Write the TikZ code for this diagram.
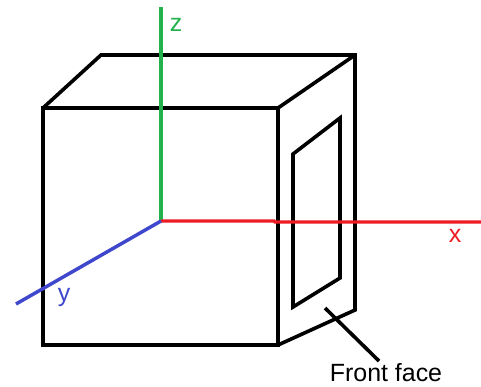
\documentclass[tikz,border=0pt]{standalone}
\usepackage{fontspec}
\setmainfont{Liberation Sans}
\usepackage{xcolor}
\definecolor{AxisGreen}{HTML}{22B14C}
\definecolor{AxisRed}{HTML}{ED1C24}
\definecolor{AxisBlue}{HTML}{3F48CC}
\begin{document}
\begin{tikzpicture}[
    x=0.75pt, y=-0.75pt,
    boxline/.style={black, line width=2.7pt, line join=miter},
    axisline/.style={line width=2.6pt},
    axislbl/.style={font=\fontsize{18.7}{20}\selectfont, inner sep=0pt}
]
\useasboundingbox (0, 0) rectangle (481, 386);

% =============================================
% Corners
% =============================================
\coordinate (ftl) at (43, 108);
\coordinate (ftr) at (278, 108);
\coordinate (fbr) at (278, 345);
\coordinate (fbl) at (43, 345);
\coordinate (btl) at (101, 55);
\coordinate (btr) at (355, 55);
\coordinate (bbr) at (355, 310);

\coordinate (win1) at (293, 154);
\coordinate (win2) at (340, 118);
\coordinate (win3) at (340, 278);
\coordinate (win4) at (293, 307);

\coordinate (orig) at (161, 221);
\coordinate (zend) at (161, 7);
\coordinate (xmid) at (274, 221);
\coordinate (xjog) at (275, 222);
\coordinate (xend) at (481, 222);
\coordinate (yend) at (16, 304);
\coordinate (ptr) at (325, 308);
\coordinate (ptrend) at (379, 361);

% =============================================
% Box
% =============================================
\draw[boxline] (ftl) -- (ftr) -- (fbr) -- (fbl) -- cycle;
\draw[boxline] (ftl) -- (btl) -- (btr) -- (bbr) -- (fbr);
\draw[boxline] (ftr) -- (btr);
\draw[boxline] (win1) -- (win2) -- (win3) -- (win4) -- cycle;

% =============================================
% Axes
% =============================================
\draw[axisline, AxisGreen] (orig) -- (zend);
\draw[axisline, AxisRed] (orig) -- (xmid) -- (xjog) -- (xend);
\draw[axisline, AxisBlue] (orig) -- (yend);

\node[axislbl, AxisGreen] (zlbl) at (176, 25) {z};
\node[axislbl, AxisRed] (xlbl) at (455, 236) {x};
\node[axislbl, AxisBlue] (ylbl) at (64, 297) {y};

% Label
\node[font=\fontsize{18.7}{20}\selectfont, inner sep=0pt] (face) at (386, 373) {Front face};
\draw[boxline] (ptr) -- (ptrend);

\end{tikzpicture}
\end{document}
